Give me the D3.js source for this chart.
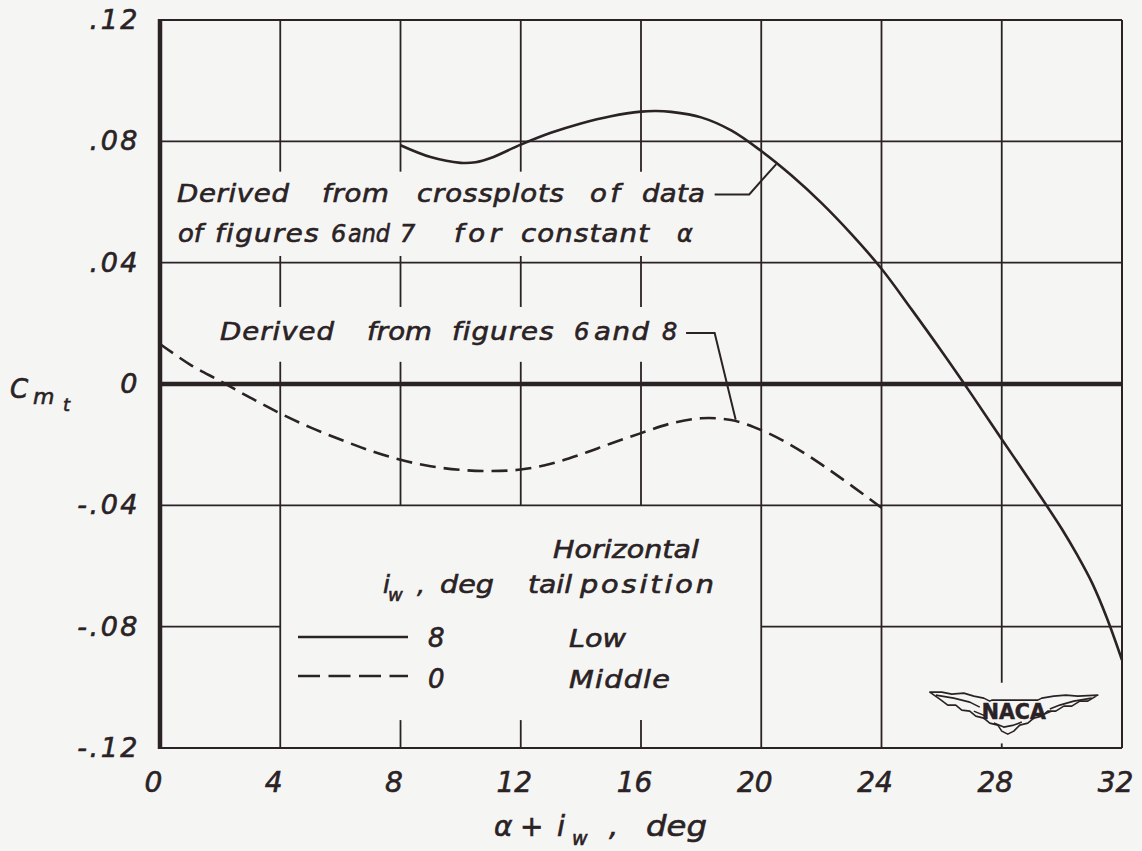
<!DOCTYPE html>
<html><head><meta charset="utf-8">
<script src="https://cdn.jsdelivr.net/npm/d3@7"></script>
<style>
html,body{margin:0;padding:0;background:#f5f5f3;}
svg{display:block;}
text{font-family:"DejaVu Sans",sans-serif;fill:#2a2224;stroke:#2a2224;stroke-width:0.6px;}
</style></head><body>
<svg id="chart" width="1142" height="851"></svg>
<script>
// ---------- data ----------
const xTicks = [0, 4, 8, 12, 16, 20, 24, 28, 32];
const xTickLabels = ["0", "4", "8", "12", "16", "20", "24", "28", "32"];
const yTicks = [0.12, 0.08, 0.04, 0, -0.04, -0.08, -0.12];
const yTickLabels = [".12", ".08", ".04", "0", "-.04", "-.08", "-.12"];

// i_w = 8, low tail (solid)
const solidX = [8, 9, 10, 10.5, 11, 12, 13, 14, 15, 16, 16.5, 17, 18, 19, 20, 21, 22, 23, 24, 25, 26, 27, 28, 29, 30, 30.5, 31, 31.5, 32];
const solidY = [0.0787, 0.0748, 0.0729, 0.0731, 0.0745, 0.0789, 0.0828, 0.0859, 0.0883, 0.0898, 0.0900, 0.0897, 0.0879, 0.0836, 0.0768, 0.0688, 0.0597, 0.0494, 0.0380, 0.0246, 0.0108, -0.0035, -0.0182, -0.0328, -0.0478, -0.0562, -0.0655, -0.0772, -0.0910];

// i_w = 0, middle tail (dashed)
const dashedX = [0, 1, 2, 3, 4, 5, 6, 7, 8, 9, 10, 11, 12, 13, 14, 15, 16, 17, 18, 19, 20, 21, 22, 23, 24];
const dashedY = [0.0132, 0.0064, 0.0010, -0.0045, -0.0097, -0.0143, -0.0183, -0.0220, -0.0250, -0.0271, -0.0283, -0.0287, -0.0282, -0.0263, -0.0232, -0.0196, -0.0162, -0.0130, -0.0113, -0.0119, -0.0152, -0.0202, -0.0265, -0.0335, -0.0408];

const legendIw = ["8", "0"];
const legendPosition = ["Low", "Middle"];

// ---------- drawing ----------
const ink = "#2a2224";
const svg = d3.select("#chart");
const x = d3.scaleLinear().domain([0, 32]).range([160, 1122]);
const y = d3.scaleLinear().domain([-0.12, 0.12]).range([748, 20]);

// grid gaps (areas kept clear for lettering), in data units
const gaps = [
  {x0: 0, x1: 20, y0: 0.0422, y1: 0.0700},
  {x0: 0, x1: 20, y0: 0.0073, y1: 0.0254},
  {x0: 4, x1: 20, y0: -0.1108, y1: -0.04},
  {x0: 26, x1: 31, y0: -0.1185, y1: -0.0985}
];
function segments(lo, hi, cuts) {
  cuts.sort((a, b) => a[0] - b[0]);
  const out = []; let cur = lo;
  for (const [a, b] of cuts) { if (a > cur) out.push([cur, a]); cur = Math.max(cur, b); }
  if (cur < hi) out.push([cur, hi]);
  return out;
}
const grid = svg.append("g").attr("stroke", ink).attr("stroke-width", 1.8).attr("fill", "none");
xTicks.filter(v => v > 0 && v < 32).forEach(xv => {
  const cuts = gaps.filter(g => xv > g.x0 && xv < g.x1).map(g => [g.y0, g.y1]);
  segments(-0.12, 0.12, cuts).forEach(([a, b]) => {
    grid.append("line").attr("x1", x(xv)).attr("x2", x(xv)).attr("y1", y(a)).attr("y2", y(b));
  });
});
yTicks.filter(v => v !== 0 && Math.abs(v) < 0.12).forEach(yv => {
  const cuts = gaps.filter(g => yv > g.y0 && yv < g.y1).map(g => [g.x0, g.x1]);
  segments(0, 32, cuts).forEach(([a, b]) => {
    grid.append("line").attr("x1", x(a)).attr("x2", x(b)).attr("y1", y(yv)).attr("y2", y(yv));
  });
});
// borders
grid.append("line").attr("x1", x(0)).attr("x2", x(32)).attr("y1", y(0.12)).attr("y2", y(0.12)).attr("stroke-width", 2);
grid.append("line").attr("x1", x(32)).attr("x2", x(32)).attr("y1", y(0.12)).attr("y2", y(-0.12)).attr("stroke-width", 2);
grid.append("line").attr("x1", x(0)).attr("x2", x(32)).attr("y1", y(-0.12)).attr("y2", y(-0.12)).attr("stroke-width", 2.2);
grid.append("line").attr("x1", x(0)).attr("x2", x(32)).attr("y1", y(0)).attr("y2", y(0)).attr("stroke-width", 4.5);
grid.append("line").attr("x1", x(0)).attr("x2", x(0)).attr("y1", y(0.12) - 1).attr("y2", y(-0.12) + 1).attr("stroke-width", 4.5);

// axes
const yAxis = svg.append("g").attr("transform", `translate(${x(0)},0)`)
  .call(d3.axisLeft(y).tickValues(yTicks).tickFormat((d, i) => yTickLabels[i]).tickSize(0).tickPadding(20));
yAxis.select(".domain").remove();
yAxis.selectAll("text").attr("font-size", 27).attr("letter-spacing", 2.5)
  .style("font-family", "DejaVu Sans").style("font-style", "italic");

const xAxis = svg.append("g").attr("transform", `translate(0,${y(-0.12)})`)
  .call(d3.axisBottom(x).tickValues(xTicks).tickFormat((d, i) => xTickLabels[i]).tickSize(0).tickPadding(24));
xAxis.select(".domain").remove();
xAxis.selectAll("text").attr("font-size", 28).attr("dx", -7)
  .style("font-family", "DejaVu Sans").style("font-style", "italic");

// curves
const line = d3.line().x(d => x(d[0])).y(d => y(d[1])).curve(d3.curveCatmullRom.alpha(0.5));
svg.append("path").datum(solidX.map((v, i) => [v, solidY[i]]))
  .attr("d", line).attr("fill", "none").attr("stroke", ink).attr("stroke-width", 2.6);
svg.append("path").datum(dashedX.map((v, i) => [v, dashedY[i]]))
  .attr("d", line).attr("fill", "none").attr("stroke", ink).attr("stroke-width", 2.6)
  .attr("stroke-dasharray", "16,8");

// text helper: place a word over its measured extent, widening glyphs a little
// (like hand lettering) and filling any rest with letter spacing
function put(g, str, x0, x1, yb, size) {
  const t = g.append("text").attr("x", 0).attr("y", 0).attr("font-size", size)
    .style("font-style", "italic").text(str);
  let sx = 1, ls = 0;
  if (x1 != null && str.length > 1) {
    const nat = t.node().getComputedTextLength();
    const target = x1 - x0;
    sx = target / nat;
    if (sx > 1.15) { sx = 1.15; ls = (target / sx - nat) / (str.length - 1); }
  }
  t.attr("letter-spacing", ls).attr("transform", `translate(${x0},${yb}) scale(${sx},1)`);
  return t;
}
const ann = svg.append("g");
// annotation 1
[["Derived", 177, 289], ["from", 322, 389], ["crossplots", 417, 564], ["of", 590, 620], ["data", 642, 705]]
  .forEach(w => put(ann, w[0], w[1], w[2], 202, 24));
[["of", 178, 203], ["figures", 215, 319], ["6", 331, null], ["and", 348, 390], ["7", 400, null], ["for", 454, 501], ["constant", 521, 649], ["α", 677, null]]
  .forEach(w => put(ann, w[0], w[1], w[2], 242, 24));
// annotation 2
[["Derived", 220, 334], ["from", 367, 432], ["figures", 452, 554], ["6", 574, null], ["and", 594, 649], ["8", 662, null]]
  .forEach(w => put(ann, w[0], w[1], w[2], 340, 24));
// leaders
const lead = d3.line().x(d => x(d[0])).y(d => y(d[1]));
svg.append("path").datum([[18.45, 0.0625], [19.6, 0.0625], [20.5, 0.0725]])
  .attr("d", lead).attr("fill", "none").attr("stroke", ink).attr("stroke-width", 2);
svg.append("path").datum([[17.5, 0.0168], [18.45, 0.0168], [19.15, -0.0118]])
  .attr("d", lead).attr("fill", "none").attr("stroke", ink).attr("stroke-width", 2);

// legend
const lg = svg.append("g");
put(lg, "Horizontal", 553, 699, 558, 25);
put(lg, "tail", 528, 572, 593, 25);
put(lg, "position", 580, 714, 593, 25);
put(lg, "i", 383, null, 593, 25);
put(lg, "w", 388, 407, 601, 18);
put(lg, ",", 417, null, 593, 25);
put(lg, "deg", 440, 494, 593, 25);
const rowsY = [637, 676];
const rowsText = [647, 688];
legendIw.forEach((lab, i) => {
  const l = lg.append("line").attr("x1", 298).attr("x2", 408).attr("y1", rowsY[i]).attr("y2", rowsY[i])
    .attr("stroke", ink).attr("stroke-width", 2.6);
  if (i === 1) l.attr("stroke-dasharray", "22,8.5");
  put(lg, lab, 428, null, rowsText[i], 26);
  put(lg, legendPosition[i], 569, i === 0 ? 626 : 670, rowsText[i], 25);
});

// axis titles
const tt = svg.append("g");
put(tt, "C", 10, null, 398, 26);
put(tt, "m", 33, 56, 404, 22);
put(tt, "t", 63, null, 411, 18);
put(tt, "α", 494, null, 836, 28);
put(tt, "+", 520, null, 836, 28);
put(tt, "i", 557, null, 836, 29);
put(tt, "w", 572, 593, 845, 19);
put(tt, ",", 609, null, 836, 29);
put(tt, "deg", 646, 707, 836, 29);

// NACA logo
const logo = svg.append("g").attr("transform", `translate(${x(28.4)},${y(-0.1085)})`)
  .attr("fill", "none").attr("stroke", ink).attr("stroke-width", 1.6).attr("stroke-linejoin", "round");
logo.append("path").attr("d",
  "M-84,-21 L-72,-21 L-62,-19 L-50,-20 L-40,-17 L-30,-15 L-24,-12 L-22,-13 L24,-13 L28,-15 L40,-17 L52,-18 L64,-17 L84,-18 " +
  "L74,-12 L66,-12 L58,-7 L50,-7 L42,-2 L34,-2 L28,3 L20,5 L14,10 L6,12 L0,18 L-6,21 " +
  "L-12,18 L-16,12 L-24,10 L-30,5 L-38,3 L-44,-2 L-52,-3 L-58,-8 L-66,-8 L-74,-14 Z");
logo.append("path").attr("d",
  "M-78,-18 L-60,-15 L-44,-11 L-34,-6 M78,-15 L60,-12 L46,-8 L36,-4 M-40,-2 L-28,3 M38,-2 L26,3 M-20,10 L-10,14 L0,12 L8,9");
logo.append("text").attr("x", 0).attr("y", 6).attr("text-anchor", "middle")
  .attr("font-size", 22).style("font-style", "normal").style("font-weight", "bold")
  .attr("textLength", 64).attr("lengthAdjust", "spacingAndGlyphs").text("NACA");
</script>
</body></html>
